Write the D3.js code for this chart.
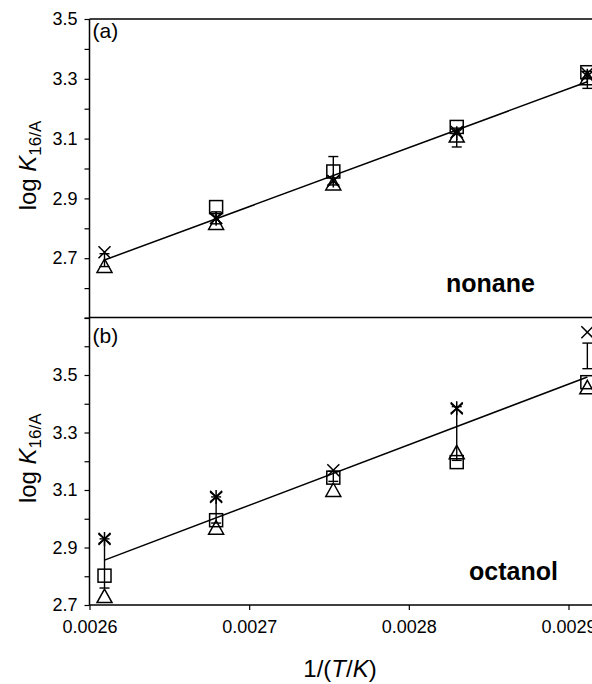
<!DOCTYPE html>
<html>
<head>
<meta charset="utf-8">
<script src="https://cdnjs.cloudflare.com/ajax/libs/d3/7.8.5/d3.min.js"></script>
<style>
  body { margin: 0; background: #fff; }
  text { font-family: "Liberation Sans", Arial, sans-serif; fill: #000; }
</style>
</head>
<body>
<div id="chart"></div>
<script>
// 1/(T/K)
var invT = [0.0026094, 0.0026793, 0.0027527, 0.0028300, 0.0029118];
var xTicks = [0.0026, 0.0027, 0.0028, 0.0029];
var xTickLabels = ["0.0026", "0.0027", "0.0028", "0.0029"];

// panel (a) nonane
var nonaneSquare   = [null, 2.871, 2.99, 3.139, 3.322];
var nonaneTriangle = [2.674, 2.818, 2.95, 3.11, 3.302];
var nonaneCross    = [2.72, 2.834, 2.958, 3.122, 3.318];
var nonaneStar     = [null, 2.832, 2.96, 3.118, 3.31];
var nonaneErrLo    = [2.672, 2.815, 2.945, 3.072, 3.268];
var nonaneErrHi    = [2.715, 2.855, 3.04, 3.135, 3.325];
var nonaneFit      = [2.694, 3.290];   // fitted line at first and last 1/T

// panel (b) octanol
var octanolSquare   = [2.802, 2.995, 3.143, 3.197, 3.475];
var octanolTriangle = [2.731, 2.969, 3.10, 3.231, 3.457];
var octanolCross    = [2.93, 3.076, 3.169, 3.384, 3.649];
var octanolStar     = [2.93, 3.076, null, 3.384, null];
var octanolErrLo    = [2.759, 2.985, 3.13, 3.203, 3.522];
var octanolErrHi    = [2.93, 3.076, 3.165, 3.39, 3.611];
var octanolFit      = [2.856, 3.493];

var yTicksA = [2.5, 2.6, 2.7, 2.8, 2.9, 3.0, 3.1, 3.2, 3.3, 3.4, 3.5];
var yTicksB = [2.7, 2.8, 2.9, 3.0, 3.1, 3.2, 3.3, 3.4, 3.5, 3.6, 3.7];
var yLabelsA = ["", "", "2.7", "", "2.9", "", "3.1", "", "3.3", "", "3.5"];
var yLabelsB = ["2.7", "", "2.9", "", "3.1", "", "3.3", "", "3.5", "", ""];

var w = 592, h = 684;
var left = 89.5;

var svg = d3.select("#chart").append("svg")
    .attr("width", w)
    .attr("height", h);

var x = d3.scaleLinear().domain([0.0026, 0.0029]).range([left, 568.5]);

var panels = [
  {name: "(a)", label: "nonane", top: 19, bottom: 318, dom: [2.5, 3.5],
   ticks: yTicksA, labels: yLabelsA,
   sq: nonaneSquare, tri: nonaneTriangle, cr: nonaneCross, st: nonaneStar,
   lo: nonaneErrLo, hi: nonaneErrHi, fit: nonaneFit, labelX: 446, labelY: 292, nameY: 38},
  {name: "(b)", label: "octanol", top: 317.5, bottom: 605, dom: [2.7, 3.7],
   ticks: yTicksB, labels: yLabelsB,
   sq: octanolSquare, tri: octanolTriangle, cr: octanolCross, st: octanolStar,
   lo: octanolErrLo, hi: octanolErrHi, fit: octanolFit, labelX: 469, labelY: 580, nameY: 343}
];

panels.forEach(function (p) {
  var y = d3.scaleLinear().domain(p.dom).range([p.bottom, p.top]);
  var g = svg.append("g");

  // y axis, ticks every 0.1, labels every 0.2
  var ax = g.append("g")
      .attr("transform", "translate(" + left + ",0)")
      .call(d3.axisLeft(y).tickValues(p.ticks).tickSize(5).tickPadding(7)
        .tickFormat(function (d, i) { return p.labels[i]; }));
  ax.select(".domain").remove();
  ax.selectAll(".tick line").attr("stroke", "#000").attr("stroke-width", 1.2);
  ax.selectAll(".tick text").style("font-size", "18px")
      .style("font-family", "'Liberation Sans', Arial, sans-serif");

  // frame line on top of the panel
  g.append("line").attr("x1", left).attr("x2", w)
      .attr("y1", p.top).attr("y2", p.top)
      .attr("stroke", "#000").attr("stroke-width", 1.5);

  // fitted line
  g.append("line")
      .attr("x1", x(invT[0])).attr("y1", y(p.fit[0]))
      .attr("x2", x(invT[invT.length - 1])).attr("y2", y(p.fit[1]))
      .attr("stroke", "#000").attr("stroke-width", 1.5);

  // error bars
  var eb = g.append("g").attr("stroke", "#000").attr("stroke-width", 1.4);
  invT.forEach(function (t, i) {
    var cx = x(t);
    eb.append("line").attr("x1", cx).attr("x2", cx)
        .attr("y1", y(p.lo[i])).attr("y2", y(p.hi[i]));
    [p.lo[i], p.hi[i]].forEach(function (v) {
      eb.append("line").attr("x1", cx - 5).attr("x2", cx + 5)
          .attr("y1", y(v)).attr("y2", y(v));
    });
  });

  // markers
  var mk = g.append("g").attr("fill", "none").attr("stroke", "#000").attr("stroke-width", 1.5);
  invT.forEach(function (t, i) {
    var cx = x(t);
    if (p.sq[i] != null) {
      mk.append("rect").attr("x", cx - 6.5).attr("y", y(p.sq[i]) - 6.5)
          .attr("width", 13).attr("height", 13);
    }
    if (p.tri[i] != null) {
      var ty = y(p.tri[i]);
      mk.append("path")
          .attr("d", "M" + cx + "," + (ty - 7) + "L" + (cx + 7.5) + "," + (ty + 6.5) +
                "L" + (cx - 7.5) + "," + (ty + 6.5) + "Z");
    }
    if (p.cr[i] != null) {
      var cy = y(p.cr[i]);
      mk.append("path")
          .attr("d", "M" + (cx - 6) + "," + (cy - 6) + "L" + (cx + 6) + "," + (cy + 6) +
                "M" + (cx + 6) + "," + (cy - 6) + "L" + (cx - 6) + "," + (cy + 6));
    }
    if (p.st[i] != null) {
      var sy = y(p.st[i]);
      mk.append("path")
          .attr("d", "M" + (cx - 6) + "," + (sy - 5) + "L" + (cx + 6) + "," + (sy + 5) +
                "M" + (cx + 6) + "," + (sy - 5) + "L" + (cx - 6) + "," + (sy + 5) +
                "M" + cx + "," + (sy - 7) + "L" + cx + "," + (sy + 7));
    }
  });

  // panel letter and solvent name
  g.append("text").attr("x", left + 3).attr("y", p.nameY)
      .style("font-size", "21px").text(p.name);
  g.append("text").attr("x", p.labelX).attr("y", p.labelY)
      .style("font-size", "25px").style("font-weight", "bold").text(p.label);

  // y title
  var yt = g.append("text")
      .attr("transform", "translate(36," + ((p.top + p.bottom) / 2 - 3) + ") rotate(-90)")
      .attr("text-anchor", "middle")
      .style("font-size", "24px");
  yt.append("tspan").text("log ");
  yt.append("tspan").style("font-style", "italic").text("K");
  yt.append("tspan").attr("dy", 5).style("font-size", "17px").text("16/A");
});

// left axis line over both panels
svg.append("line").attr("x1", left).attr("x2", left).attr("y1", 19).attr("y2", 605)
    .attr("stroke", "#000").attr("stroke-width", 1.5);

// x axis at bottom
var xa = svg.append("g")
    .attr("transform", "translate(0,605)")
    .call(d3.axisBottom(x).tickValues(xTicks).tickSize(5).tickPadding(10)
      .tickFormat(function (d, i) { return xTickLabels[i]; }));
xa.select(".domain").remove();
xa.selectAll(".tick line").attr("stroke", "#000").attr("stroke-width", 1.2);
xa.selectAll(".tick text").style("font-size", "18px")
    .style("font-family", "'Liberation Sans', Arial, sans-serif");
svg.append("line").attr("x1", left).attr("x2", w).attr("y1", 605).attr("y2", 605)
    .attr("stroke", "#000").attr("stroke-width", 1.5);

// x title
var xt = svg.append("text").attr("x", 340).attr("y", 677)
    .attr("text-anchor", "middle").style("font-size", "24px");
xt.append("tspan").text("1/(");
xt.append("tspan").style("font-style", "italic").text("T");
xt.append("tspan").text("/");
xt.append("tspan").style("font-style", "italic").text("K");
xt.append("tspan").text(")");
</script>
</body>
</html>
